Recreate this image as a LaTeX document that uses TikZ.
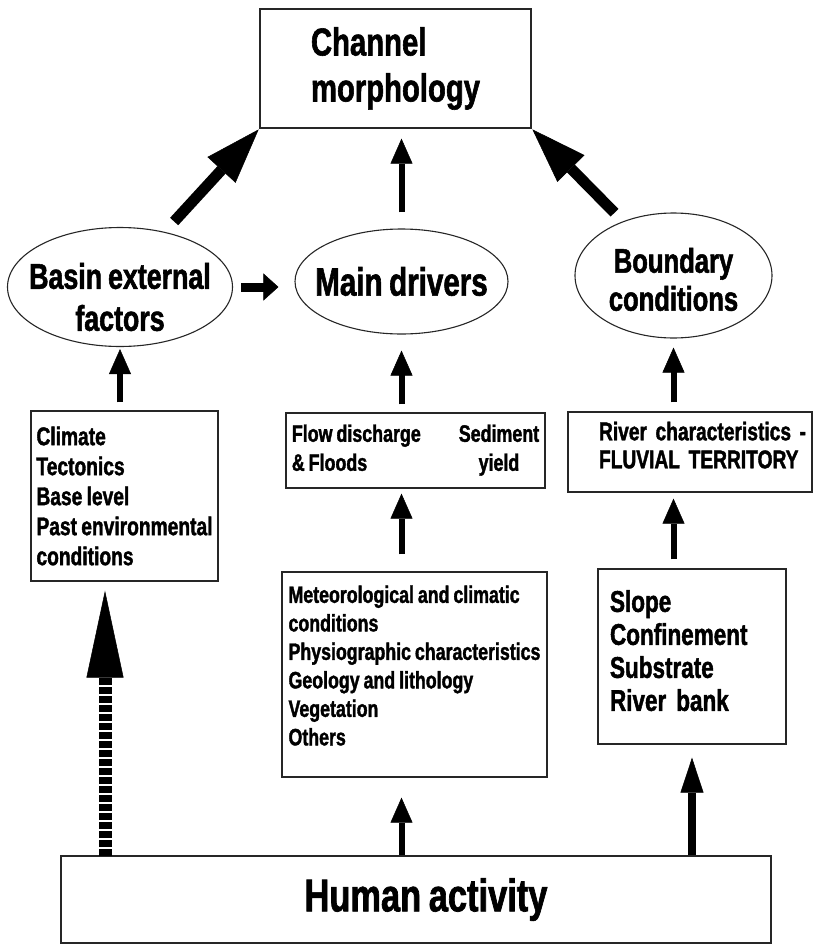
\documentclass[tikz,border=0pt]{standalone}
\usepackage{fontspec}
\newfontfamily\figfont{Liberation Sans Bold}[FakeStretch=0.75, FakeBold=1.5, WordSpace=0.8]
\newcommand\figtext[2]{\figfont\fontsize{#1}{#2}\selectfont}
\usetikzlibrary{arrows.meta,shapes.geometric}

\tikzset{
  box/.style={draw=black!85, line width=1.3pt, inner sep=0pt},
  oval/.style={draw=black!85, ellipse, line width=1.1pt, inner sep=0pt},
  ovaltext/.style={align=center, inner sep=0pt},
  uparrow/.style={line width=6pt, -{Triangle[length=25pt, width=22pt, line width=0.5pt]}},
  longuparrow/.style={line width=8pt, -{Triangle[length=35pt, width=23pt, line width=0.5pt]}},
  sidearrow/.style={line width=9pt, -{Triangle[length=15pt, width=27pt, line width=0.5pt]}},
  bigarrow/.style={line width=11pt, -{Triangle[length=55pt, width=38pt, line width=0.5pt]}},
  dasharrow/.style={line width=13pt, dash pattern=on 7pt off 2pt,
    -{Triangle[length=87pt, width=37pt, line width=0.5pt]}}
}

\begin{document}
\begin{tikzpicture}[x=1pt, y=-1pt]

% one unit is one pixel of the original figure
\useasboundingbox (0,0) rectangle (815,948);

% Channel morphology
\node[box, minimum width=271pt, minimum height=119pt, align=left,
    font=\figtext{39}{46}] (channel) at (395.5,68.5)
    {Channel\\morphology};

% The three ellipses
\node[oval, minimum width=225pt, minimum height=119pt,
    label={[ovaltext, yshift=-10pt, font=\figtext{35.7}{42}]center:Basin external\\factors}]
    (basin) at (120,287) {};

\node[oval, minimum width=213pt, minimum height=105pt,
    label={[ovaltext, font=\figtext{39.4}{44}]center:Main drivers}]
    (main) at (401.5,281.5) {};

\node[oval, minimum width=197pt, minimum height=125pt,
    label={[ovaltext, yshift=-4pt, font=\figtext{34.1}{38}]center:Boundary\\conditions}]
    (boundary) at (673.5,275.5) {};

% Boxes of the middle row
\node[box, minimum width=187pt, minimum height=170pt, align=left,
    font=\figtext{25.6}{30}] (climbox) at (124.5,496)
    {Climate\\Tectonics\\Base level\\Past environmental\\conditions};

\node[box, minimum width=259pt, minimum height=75pt,
    font=\figtext{23.8}{29}] (flowbox) at (415.5,450.5)
    {\begin{tabular}{@{}l@{\hspace{38pt}}c@{}}
      Flow discharge & Sediment\\
      \& Floods & yield
    \end{tabular}};

\node[box, minimum width=244pt, minimum height=80pt, text width=182pt, align=left,
    text depth=42pt, font=\figtext{25.6}{28}] (riverbox) at (690,452)
    {\mbox{River characteristics -}\\\mbox{FLUVIAL TERRITORY}};

% Boxes of the lower row
\node[box, minimum width=265pt, minimum height=205pt, align=left,
    text depth=18pt, font=\figtext{23.7}{28.5}] (meteorbox) at (414.5,674.5)
    {Meteorological and climatic\\conditions\\Physiographic characteristics\\
     Geology and lithology\\Vegetation\\Others};

\node[box, minimum width=188pt, minimum height=175pt, text width=164pt, align=left,
    text depth=111pt, font=\figtext{30}{33}] (slopebox) at (692,656.5)
    {Slope\\Confinement\\Substrate\\River bank};

% Human activity
\node[box, minimum width=710pt, minimum height=87pt,
    font=\figtext{45.9}{50}] (human) at (416,899.5)
    {\hspace*{20pt}Human activity};

\coordinate (dashfoot) at (105,856);

% Arrows into channel morphology
\draw[bigarrow, shorten <=14pt, shorten >=1pt] (basin.51) -- (channel.south west);
\draw[bigarrow, shorten <=12pt, shorten >=1pt] (boundary.133) -- (channel.south east);
\draw[uparrow, shorten <=16pt, shorten >=10pt] (main.north) -- (channel.south -| main.north);

% Basin external factors to main drivers
\draw[sidearrow, shorten <=8pt, shorten >=16pt] (basin.east) -- (basin.east -| main.west);

% Boxes up to the ellipses
\draw[uparrow, shorten <=8pt, shorten >=2pt] (climbox.north -| basin) -- (basin.south);
\draw[uparrow, shorten <=8pt, shorten >=16pt] (flowbox.north -| main) -- (main.south);
\draw[uparrow, shorten <=9pt, shorten >=9pt] (riverbox.north -| boundary) -- (boundary.south);

% Lower boxes up to the middle boxes
\draw[uparrow, shorten <=17pt, shorten >=5pt] (meteorbox.north -| main) -- (flowbox.south -| main);
\draw[uparrow, shorten <=9pt, shorten >=6pt] (slopebox.north -| boundary) -- (riverbox.south -| boundary);

% Human activity
\draw[dasharrow, shorten >=9pt] (dashfoot) -- (dashfoot |- climbox.south);
\draw[uparrow, shorten >=20pt] (human.north -| main) -- (meteorbox.south -| main);
\draw[longuparrow, shorten >=13pt] (human.north -| slopebox) -- (slopebox.south);

\end{tikzpicture}
\end{document}
